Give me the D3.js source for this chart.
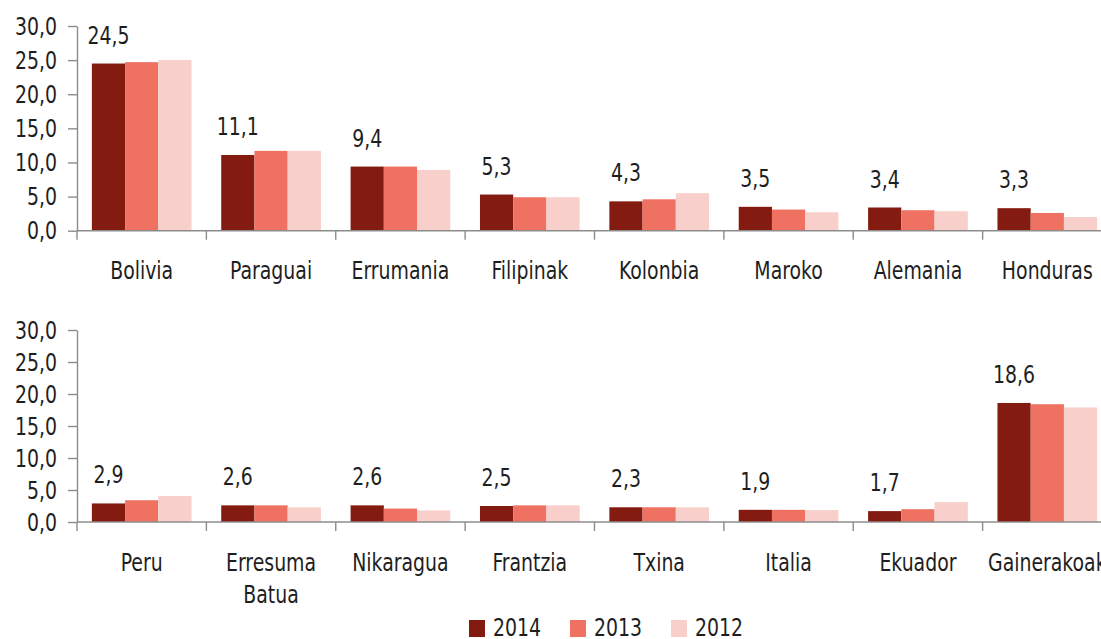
<!DOCTYPE html>
<meta charset="utf-8">
<head>
    <style>
        body, html {
            margin: 0;
            background: white;
            width: 100%;
            height: 100%;
            overflow: hidden;
        }
        svg text {
            font-family: "DejaVu Sans Condensed", "Liberation Sans Narrow", sans-serif;
            font-size: 25px;
            fill: #1e1e1e;
        }
        .axis path, .axis line {
            stroke: #8c8c8c;
            stroke-width: 1.4;
        }
    </style>
    <script src="https://cdn.jsdelivr.net/npm/d3@7"></script>
</head>
<body>
<svg id="chart"></svg>

<script>
    // data
    var years = ["2014", "2013", "2012"];
    var colors = ["#841b10", "#ef7162", "#f8cfcb"];

    var topCategories = ["Bolivia", "Paraguai", "Errumania", "Filipinak", "Kolonbia", "Maroko", "Alemania", "Honduras"];
    var top2014 = [24.5, 11.1, 9.4, 5.3, 4.3, 3.5, 3.4, 3.3];
    var top2013 = [24.7, 11.7, 9.4, 4.9, 4.6, 3.1, 3.0, 2.6];
    var top2012 = [25.0, 11.7, 8.9, 4.9, 5.5, 2.7, 2.85, 2.0];

    var bottomCategories = ["Peru", "Erresuma Batua", "Nikaragua", "Frantzia", "Txina", "Italia", "Ekuador", "Gainerakoak"];
    var bottom2014 = [2.9, 2.6, 2.6, 2.5, 2.3, 1.9, 1.7, 18.6];
    var bottom2013 = [3.4, 2.6, 2.1, 2.6, 2.3, 1.9, 2.0, 18.4];
    var bottom2012 = [4.05, 2.3, 1.8, 2.6, 2.3, 1.85, 3.1, 17.9];

    var yTicks = [0, 5, 10, 15, 20, 25, 30];

    var width = 1101, height = 639;
    var squeeze = 0.84; // narrow look of the original font
    var svg = d3.select("#chart").attr("width", width).attr("height", height);

    var locale = d3.formatLocale({decimal: ",", thousands: ".", grouping: [3], currency: ["", "€"]});
    var fmt = locale.format(".1f");

    function at(x, y) {
        return "translate(" + x + "," + y + ") scale(" + squeeze + ",1)";
    }

    function panel(categories, series, yTop, yBottom) {
        var g = svg.append("g");

        var x = d3.scaleBand()
            .domain(categories)
            .range([77, 1112])
            .padding(0);

        var x1 = d3.scaleBand()
            .domain(years)
            .range([0, x.bandwidth()])
            .paddingInner(0)
            .paddingOuter(0.447);

        var y = d3.scaleLinear()
            .domain([0, 30])
            .range([yBottom, yTop]);

        // bars
        var rows = categories.map(function(c, i) {
            return {name: c, values: years.map(function(yr, k) { return {year: yr, value: series[k][i], k: k}; })};
        });

        var cat = g.selectAll(".cat")
            .data(rows)
            .enter()
            .append("g")
            .attr("class", "cat")
            .attr("transform", function(d) { return "translate(" + x(d.name) + ",0)"; });

        cat.selectAll("rect")
            .data(function(d) { return d.values; })
            .enter()
            .append("rect")
            .attr("x", function(d) { return x1(d.year); })
            .attr("width", x1.bandwidth())
            .attr("y", function(d) { return y(d.value); })
            .attr("height", function(d) { return y(0) - y(d.value); })
            .attr("fill", function(d) { return colors[d.k]; });

        // value labels over the 2014 bar
        cat.append("text")
            .attr("transform", function(d) {
                return at(x1("2014") + x1.bandwidth() / 2, y(d.values[0].value) - 20);
            })
            .attr("text-anchor", "middle")
            .text(function(d) { return fmt(d.values[0].value); });

        // y axis
        var yAxis = d3.axisLeft(y)
            .tickValues(yTicks)
            .tickSize(9)
            .tickSizeOuter(0)
            .tickPadding(11)
            .tickFormat(fmt);

        var ya = g.append("g")
            .attr("class", "axis")
            .attr("transform", "translate(77,0)")
            .call(yAxis);
        ya.attr("font-size", null).attr("font-family", null);
        ya.selectAll("text")
            .attr("fill", null)
            .attr("transform", function() { return at(+d3.select(this).attr("x"), 0); })
            .attr("x", 0);

        // x axis line and category boundary ticks
        var xa = g.append("g").attr("class", "axis");
        xa.append("line")
            .attr("x1", x.range()[0]).attr("x2", x.range()[1])
            .attr("y1", y(0)).attr("y2", y(0));
        var bounds = categories.map(function(c) { return x(c); }).concat([x.range()[1]]);
        xa.selectAll(".tk")
            .data(bounds)
            .enter()
            .append("line")
            .attr("class", "tk")
            .attr("x1", function(d) { return d; }).attr("x2", function(d) { return d; })
            .attr("y1", y(0)).attr("y2", y(0) + 9);

        // category labels (wrap when wider than the band)
        var labels = g.selectAll(".lbl")
            .data(categories)
            .enter()
            .append("text")
            .attr("class", "lbl")
            .attr("text-anchor", "middle")
            .attr("transform", function(c) { return at(x(c) + x.bandwidth() / 2, y(0) + 48.5); });

        labels.each(function(c) {
            var t = d3.select(this);
            t.append("tspan").attr("x", 0).text(c);
            var words = c.split(" ");
            if (words.length > 1 && this.getComputedTextLength() * squeeze > x.bandwidth() - 10) {
                t.text(null);
                words.forEach(function(w, i) {
                    t.append("tspan").attr("x", 0).attr("dy", i ? 33 : 0).text(w);
                });
            }
        });
    }

    panel(topCategories, [top2014, top2013, top2012], 26, 230.7);
    panel(bottomCategories, [bottom2014, bottom2013, bottom2012], 330, 522);

    // legend
    var legendX = d3.scalePoint()
        .domain(years)
        .range([469, 671]);

    var leg = svg.append("g")
        .selectAll("g")
        .data(years)
        .enter()
        .append("g")
        .attr("transform", function(d) { return "translate(" + legendX(d) + ",620)"; });

    leg.append("rect")
        .attr("width", 16)
        .attr("height", 17)
        .attr("fill", function(d, i) { return colors[i]; });

    leg.append("text")
        .attr("transform", at(24, 16))
        .text(function(d) { return d; });
</script>
</body>
